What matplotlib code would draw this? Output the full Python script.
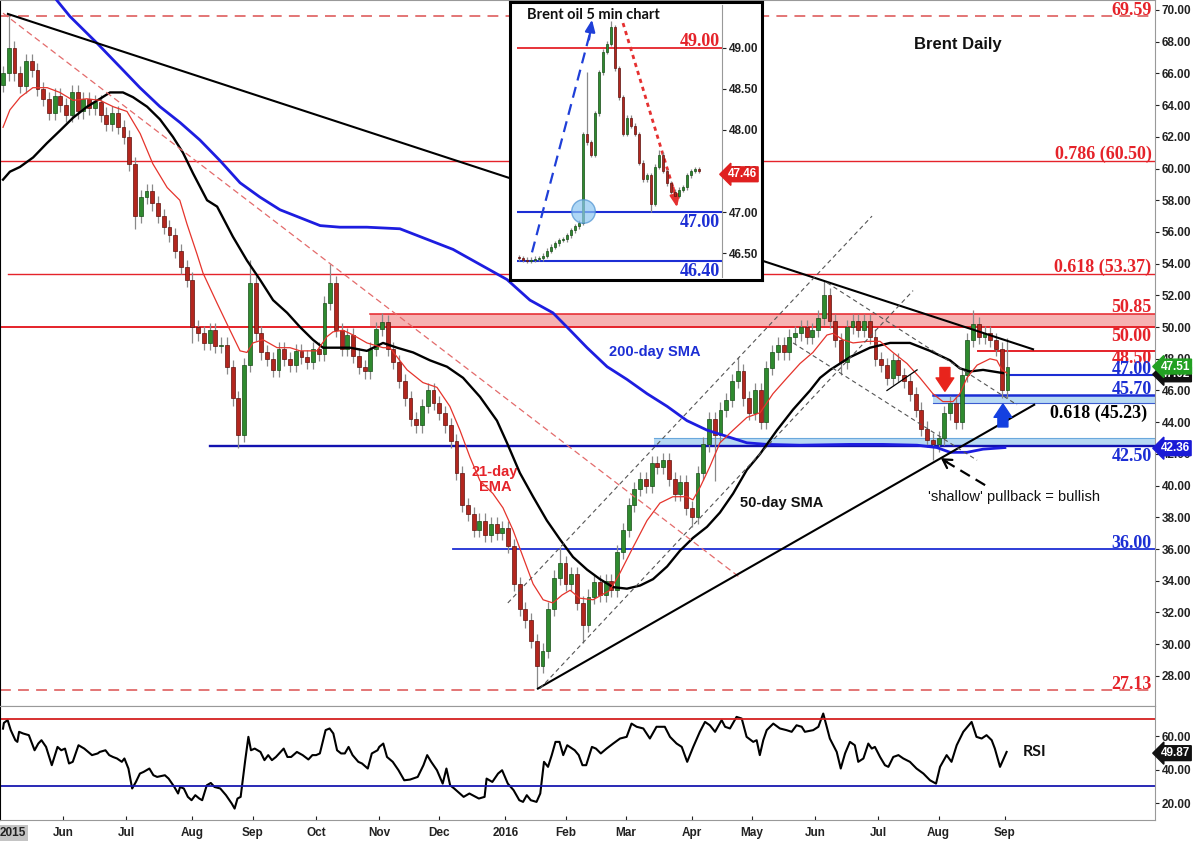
import matplotlib.pyplot as plt
import numpy as np
import pandas as pd

# Brent daily, one candle for every second session starting 1 May 2015
closes = [66.0, 67.6, 66.0, 65.2, 66.8, 66.2, 65.0, 64.4, 63.5, 64.6,
          64.0, 63.4, 64.8, 63.6, 64.4, 63.8, 64.2, 63.4, 62.8, 63.5,
          62.6, 62.0, 60.3, 57.0, 58.2, 58.6, 57.8, 57.0, 56.3, 55.8,
          54.8, 53.8, 53.0, 50.0, 49.6, 49.0, 49.8, 48.8, 48.9, 47.5,
          45.5, 43.2, 47.6, 52.8, 49.6, 48.4, 48.0, 47.3, 48.6, 48.0,
          47.6, 48.5, 48.1, 47.8, 48.6, 48.3, 51.5, 52.8, 49.8, 48.6,
          49.5, 48.2, 47.5, 47.2, 48.6, 49.9, 50.3, 48.6, 47.8, 46.6,
          45.5, 44.2, 43.8, 45.0, 46.0, 45.2, 44.6, 43.8, 42.8, 40.8,
          38.8, 38.2, 37.2, 37.8, 36.9, 37.6, 37.0, 37.3, 36.2, 33.8,
          32.2, 31.5, 30.2, 28.6, 29.6, 32.2, 34.2, 35.1, 33.8, 34.4,
          32.6, 31.2, 33.0, 33.9, 33.1, 34.0, 33.4, 35.8, 37.2, 38.8,
          39.8, 40.4, 40.0, 41.4, 41.2, 41.6, 40.4, 39.5, 40.2, 38.6,
          38.0, 40.8, 42.6, 44.2, 43.2, 44.8, 45.4, 46.6, 47.2, 45.5,
          44.6, 46.0, 44.0, 47.4, 48.4, 48.9, 48.4, 49.4, 49.6, 50.0,
          49.4, 49.8, 50.6, 52.0, 50.4, 49.2, 47.8, 50.0, 50.4, 49.8,
          50.4, 49.4, 48.0, 47.6, 46.8, 47.9, 47.0, 46.6, 45.8, 44.8,
          43.6, 42.9, 42.6, 43.0, 44.6, 45.2, 44.0, 47.0, 49.2, 50.2,
          49.4, 49.6, 49.2, 48.6, 46.0, 47.5]
first_open = 65.3
bar_highs = {1: 69.75, 43: 54.2, 57: 54.0, 66: 50.9, 74: 46.5, 97: 36.1,
             128: 48.1, 143: 52.9, 169: 51.1, 175: 49.3}
bar_lows = {23: 56.2, 33: 49.0, 41: 42.4, 93: 27.2, 101: 30.1, 120: 37.4,
            124: 40.3, 146: 47.0, 162: 41.6, 174: 45.5}

ema21_day = [0, 2.4, 6.0, 10.4, 15.4, 19.8, 24.4, 29.2, 33.8, 38.4,
             43.2, 47.8, 52.2, 57.2, 61.6, 64.1, 67.6, 69.7, 74.6, 79.1,
             82.6, 85.0, 87.1, 90.6, 95.5, 100.0, 103.5, 109.4, 112.9, 115.0,
             118.5, 122.0, 126.8, 132.4, 134.8, 140.8, 146.3, 151.2, 155.7, 159.2,
             162.7, 166.2, 170.7, 174.2, 177.7, 181.2, 184.7, 188.2, 191.6, 194.8,
             197.6, 201.0, 205.6, 211.5, 215.0, 219.5, 224.4, 228.9, 233.4, 238.3,
             240.4, 242.9, 246.3, 249.8, 254.4, 259.2, 263.8, 268.3, 273.2, 277.7,
             282.2, 287.1, 289.2, 292.7, 296.2, 301.0, 305.6, 310.1, 315.0, 319.5,
             324.0, 327.5, 331.0, 333.4, 335.9, 339.4, 343.9, 346.3, 348.1, 349.8]
ema21_val = [62.6, 63.7, 64.5, 65.1, 65.1, 64.8, 64.3, 64.4, 64.3, 63.9,
             63.6, 62.2, 60.3, 58.8, 58.0, 56.5, 54.6, 53.4, 51.5, 49.8,
             48.5, 48.4, 49.0, 49.2, 48.7, 48.7, 48.5, 48.5, 49.4, 49.7,
             49.8, 49.5, 49.0, 48.7, 48.7, 47.3, 46.5, 46.2, 45.0, 43.5,
             41.8, 40.3, 39.5, 38.6, 37.2, 35.5, 33.8, 32.8, 32.6, 33.1,
             33.4, 32.9, 32.8, 33.4, 34.5, 36.1, 37.8, 38.9, 39.3, 39.3,
             39.1, 39.9, 41.2, 42.7, 43.5, 44.3, 44.6, 45.8, 46.8, 47.7,
             48.4, 49.5, 49.6, 49.2, 49.0, 49.1, 49.1, 48.4, 47.7, 46.8,
             45.8, 45.3, 45.3, 45.8, 46.8, 47.6, 48.0, 47.9, 47.3, 47.1]

sma50_day = [0, 2.4, 5.9, 10.5, 15.3, 19.9, 24.4, 29.3, 33.8, 37.3,
             41.8, 45.3, 50.2, 54.7, 59.2, 62.7, 66.2, 71.1, 74.6, 80.1,
             85.0, 89.5, 94.1, 99.0, 103.5, 108.0, 111.5, 115.0, 120.9, 126.8,
             132.4, 137.3, 142.9, 148.8, 154.7, 160.3, 166.2, 172.1, 175.6, 180.1,
             184.7, 189.5, 194.1, 198.6, 203.5, 208.0, 212.5, 217.4, 222.0, 226.5,
             231.4, 235.9, 240.4, 245.3, 249.8, 254.4, 259.2, 263.8, 269.7, 275.3,
             281.2, 284.7, 288.2, 295.1, 302.1, 309.1, 316.0, 323.0, 330.0, 333.4,
             336.9, 341.5, 348.4]
sma50_val = [59.3, 59.8, 60.1, 60.7, 61.6, 62.4, 63.2, 63.9, 64.4, 64.8,
             64.8, 64.5, 63.9, 63.1, 62.0, 61.0, 59.7, 58.0, 57.6, 55.7,
             54.2, 53.0, 51.7, 50.9, 50.0, 49.2, 48.7, 48.7, 48.7, 48.5,
             49.0, 48.7, 48.4, 47.9, 47.5, 46.8, 45.6, 44.1, 42.7, 40.8,
             39.3, 37.8, 36.6, 35.5, 34.7, 34.1, 33.6, 33.5, 33.7, 34.1,
             34.9, 35.9, 36.7, 37.4, 38.3, 39.5, 41.0, 42.0, 43.5, 44.8,
             46.0, 46.8, 47.3, 48.1, 48.7, 49.0, 49.0, 48.5, 47.9, 47.4,
             47.2, 47.3, 47.1]

sma200_day = [18.8, 23.3, 32.8, 40.8, 47.7, 54.7, 61.7, 68.6, 75.6, 82.6,
              89.5, 96.5, 103.5, 110.5, 117.4, 126.8, 138.3, 156.8, 175.6, 183.6,
              191.6, 197.6, 203.5, 210.5, 217.4, 224.4, 231.4, 238.3, 245.3, 252.3,
              259.2, 266.2, 277.7, 295.1, 306.6, 318.5, 325.4, 330.0, 335.9, 341.5,
              349.1]
sma200_val = [70.6, 69.6, 67.9, 66.4, 65.1, 63.9, 62.9, 61.8, 60.5, 59.1,
              58.2, 57.4, 56.9, 56.4, 56.3, 56.3, 56.2, 54.9, 53.0, 51.7,
              50.9, 49.8, 48.7, 47.5, 46.7, 45.8, 45.0, 44.1, 43.5, 43.1,
              42.7, 42.6, 42.55, 42.6, 42.6, 42.55, 42.4, 42.1, 42.1, 42.3,
              42.4]

rsi_day = [0, 0.3, 1.6, 2.7, 4.3, 5.0, 5.6, 7.0, 9.0, 11.0,
           12.3, 13.4, 15.0, 17.0, 19.0, 20.3, 21.6, 23.0, 24.3, 26.3,
           28.3, 31.0, 33.0, 33.7, 35.7, 37.0, 38.3, 39.7, 41.4, 42.3,
           43.7, 45.0, 46.3, 47.7, 49.0, 51.0, 52.4, 53.7, 56.4, 57.7,
           59.7, 61.0, 61.7, 63.0, 64.4, 65.7, 67.0, 68.4, 69.4, 71.0,
           72.4, 73.7, 75.7, 77.7, 79.7, 80.7, 81.7, 82.8, 84.4, 85.5,
           86.4, 87.7, 89.7, 91.1, 92.4, 93.7, 95.1, 97.8, 99.1, 100.4,
           102.4, 104.4, 106.4, 107.8, 109.1, 110.4, 112.4, 113.8, 115.1, 116.4,
           117.8, 119.1, 120.4, 121.8, 123.8, 125.1, 127.1, 128.5, 130.5, 131.1,
           132.5, 133.8, 135.8, 137.8, 139.8, 141.8, 144.5, 146.5, 147.8, 149.2,
           151.2, 153.2, 154.5, 155.8, 157.2, 160.5, 162.5, 165.8, 167.8, 168.5,
           170.5, 172.5, 173.9, 175.9, 177.9, 179.9, 181.2, 182.5, 183.9, 185.9,
           187.2, 188.5, 189.9, 191.2, 192.5, 193.9, 195.2, 196.6, 199.2, 200.6,
           201.9, 203.2, 205.2, 206.6, 208.3, 210.3, 212.6, 215.0, 217.3, 219.0,
           220.8, 223.1, 225.4, 227.7, 230.6, 232.4, 234.7, 236.5, 238.4, 240.5,
           242.8, 244.6, 246.3, 248.1, 250.4, 251.6, 253.3, 255.6, 257.4, 259.1,
           261.4, 262.6, 263.7, 264.9, 266.1, 268.4, 270.7, 273.0, 274.8, 276.5,
           278.3, 279.4, 282.3, 284.1, 285.8, 288.1, 290.5, 291.9, 293.4, 295.1,
           296.8, 298.0, 299.8, 301.5, 302.7, 303.8, 305.6, 307.3, 308.5, 310.2,
           312.0, 313.7, 316.0, 318.3, 320.7, 323.0, 325.1, 326.5, 328.8, 330.5,
           332.3, 334.6, 337.5, 339.2, 341.0, 342.7, 344.5, 345.6, 347.4, 349.7]
rsi_val = [64.5, 67.9, 69.6, 63.6, 57.6, 56.6, 62.6, 61.6, 60.6, 51.6,
           55.6, 57.6, 53.6, 42.7, 53.6, 51.6, 52.6, 43.7, 44.7, 54.6,
           52.6, 48.7, 49.7, 50.6, 51.6, 48.7, 47.6, 46.7, 44.7, 46.7,
           40.7, 28.8, 32.7, 37.7, 38.7, 40.7, 36.7, 35.7, 36.7, 34.7,
           29.7, 25.8, 29.7, 28.8, 23.8, 21.8, 24.8, 22.8, 21.8, 30.7,
           32.1, 29.7, 28.8, 24.8, 19.8, 16.8, 22.8, 23.8, 45.7, 59.6,
           51.6, 52.6, 50.6, 45.7, 48.7, 45.7, 47.6, 52.6, 47.6, 47.6,
           50.6, 48.7, 46.1, 48.7, 48.7, 49.7, 63.6, 64.6, 61.6, 51.6,
           49.7, 49.7, 53.6, 48.7, 44.7, 43.7, 40.7, 49.7, 51.6, 53.6,
           55.6, 47.6, 44.7, 39.7, 33.7, 34.1, 35.7, 42.7, 48.7, 44.7,
           39.7, 31.7, 40.7, 30.7, 28.8, 23.8, 25.8, 22.8, 23.8, 34.7,
           32.7, 37.7, 39.7, 31.7, 27.8, 21.8, 20.8, 24.8, 21.8, 20.8,
           25.8, 44.7, 41.7, 48.7, 56.6, 56.6, 48.7, 54.6, 51.6, 48.7,
           42.7, 42.7, 53.6, 52.6, 49.7, 52.6, 55.6, 58.6, 59.6, 67.5,
           65.6, 64.6, 58.6, 65.6, 65.6, 59.6, 55.6, 53.6, 44.7, 53.6,
           62.6, 68.5, 66.5, 62.6, 69.6, 65.6, 64.6, 71.5, 70.5, 59.6,
           56.6, 57.6, 48.7, 57.6, 63.6, 67.5, 64.6, 63.6, 62.6, 66.5,
           65.6, 62.6, 63.6, 65.6, 73.5, 58.6, 50.6, 40.7, 49.7, 56.6,
           54.6, 44.7, 46.7, 55.6, 52.6, 53.6, 47.6, 42.7, 41.7, 47.6,
           48.7, 46.7, 44.7, 40.7, 37.7, 33.7, 31.7, 41.7, 48.7, 44.7,
           54.6, 62.6, 68.5, 59.6, 58.6, 60.6, 57.6, 52.6, 41.7, 50.6]

# 5 minute inset
m5_closes = [46.44, 46.42, 46.41, 46.42, 46.43, 46.44, 46.47, 46.53, 46.58, 46.62,
             46.66, 46.67, 46.72, 46.78, 46.83, 46.87, 47.95, 47.85, 47.70, 48.20,
             48.70, 48.95, 49.05, 49.25, 48.75, 48.40, 47.95, 48.15, 48.05, 47.95,
             47.60, 47.40, 47.45, 47.10, 47.55, 47.70, 47.50, 47.35, 47.25, 47.20,
             47.27, 47.30, 47.45, 47.50, 47.52, 47.50]
m5_first_open = 46.45
m5_highs = {17: 48.70, 23: 49.33, 35: 47.75}
m5_lows = {33: 47.00}

price_ticks = np.arange(28, 71, 2)
rsi_ticks = [20, 40, 60]
m5_ticks = [46.5, 47.0, 47.5, 48.0, 48.5, 49.0]

dates = pd.bdate_range('2015-05-01', periods=352)

RED = '#e5232a'
BLUE = '#1c2ed4'
SERIF = 'Liberation Serif'
SANS = 'Liberation Sans'


def candles(axis, xs, opens, cl, highs, lows, width):
    opens, cl = np.array(opens), np.array(cl)
    up = cl >= opens
    axis.vlines(xs, lows, highs, color='#8a8a8a', lw=0.9, zorder=3)
    body = np.maximum(np.abs(cl - opens), 0.06 * (axis.get_ylim()[1] - axis.get_ylim()[0]) / 40)
    axis.bar(xs, body, bottom=np.minimum(opens, cl), width=width,
             color=np.where(up, '#2f8a2f', '#b3261e'),
             edgecolor=np.where(up, '#174d17', '#5e120e'), linewidth=0.5, zorder=4)


def tag(axis, y, s, color):
    axis.annotate(s, xy=(1, y), xycoords=('axes fraction', 'data'), xytext=(4, 0),
                  textcoords='offset points', ha='left', va='center', fontsize=8.5,
                  fontweight='bold', color='white', family=SANS, annotation_clip=False,
                  bbox=dict(boxstyle='larrow,pad=0.12', fc=color, ec=color), zorder=10)


def level_text(axis, y, s, color, va, x=0.997):
    axis.text(x, y, s, transform=axis.get_yaxis_transform(), ha='right', va=va,
              color=color, fontsize=13, fontweight='bold', family=SERIF, zorder=6)


fig = plt.figure(figsize=(12, 8.42), dpi=100)
ax = fig.add_axes([0, 136 / 842, 1155 / 1200, 706 / 842])
rsi_ax = fig.add_axes([0, 22 / 842, 1155 / 1200, 114 / 842], sharex=ax)

ax.set_xlim(-1.05, 401.4)
ax.set_ylim(26.1, 70.63)

# candles
xs = np.arange(len(closes)) * 2
opens = [first_open] + closes[:-1]
highs = [bar_highs.get(k, max(o, c) + 0.45) for k, (o, c) in enumerate(zip(opens, closes))]
lows = [bar_lows.get(k, min(o, c) - 0.45) for k, (o, c) in enumerate(zip(opens, closes))]
candles(ax, xs, opens, closes, highs, lows, 1.35)

# moving averages
ax.plot(sma200_day, sma200_val, color='#1d1de0', lw=2.0, zorder=5)
ax.plot(sma50_day, sma50_val, color='black', lw=1.7, zorder=5)
ax.plot(ema21_day, ema21_val, color='#e5342c', lw=0.9, zorder=5)

# horizontal levels and zones
ax.axhline(69.59, color='#e06a6a', lw=1.3, ls=(0, (6, 4)), zorder=2)
ax.axhline(60.50, color=RED, lw=1.0, zorder=2)
ax.plot([1.7, 401.4], [53.37, 53.37], color=RED, lw=1.0, zorder=2)
ax.fill_between([127.9, 401.4], 50.0, 50.85, color='#f6b2b2', lw=0, zorder=1)
ax.plot([127.9, 401.4], [50.85, 50.85], color=RED, lw=1.1, zorder=2)
ax.axhline(50.0, color=RED, lw=1.4, zorder=2)
ax.plot([339.7, 401.4], [48.5, 48.5], color=RED, lw=1.4, zorder=2)
ax.plot([349.8, 401.4], [47.0, 47.0], color=BLUE, lw=1.5, zorder=2)
ax.fill_between([324.0, 401.4], 45.23, 45.70, color='#b7d9f3', lw=0, zorder=1)
ax.plot([324.0, 401.4], [45.70, 45.70], color=BLUE, lw=1.8, zorder=2)
ax.plot([324.0, 401.4], [45.23, 45.23], color='#3b5bd0', lw=0.8, zorder=2)
ax.fill_between([227.0, 401.4], 42.5, 43.0, color='#b7d9f3', lw=0, zorder=1)
ax.plot([227.0, 401.4], [43.0, 43.0], color='#6aa8dc', lw=0.8, zorder=2)
ax.plot([72.1, 401.4], [42.5, 42.5], color='#1212b0', lw=1.7, zorder=2)
ax.plot([156.8, 401.4], [36.0, 36.0], color=BLUE, lw=1.3, zorder=2)
ax.axhline(27.13, color='#e06a6a', lw=1.3, ls=(0, (6, 4)), zorder=2)

# trend lines and channels
ax.plot([1.7, 358.9], [69.75, 48.6], color='black', lw=1.5, zorder=5)
ax.plot([0, 256.8], [69.8, 34.2], color='#e36b6b', lw=0.9, ls=(0, (5, 3)), zorder=5)
ax.plot([186.4, 359.3], [27.2, 45.1], color='black', lw=1.5, zorder=5)
ax.plot([175.9, 302.8], [32.6, 57.0], color='#555555', lw=0.8, ls=(0, (4, 3)), zorder=5)
ax.plot([187.1, 317.1], [27.2, 52.3], color='#555555', lw=0.8, ls=(0, (4, 3)), zorder=5)
ax.plot([287.1, 353.3], [52.8, 45.1], color='#555555', lw=0.8, ls=(0, (4, 3)), zorder=5)
ax.plot([275.3, 339.4], [49.0, 41.6], color='#555555', lw=0.8, ls=(0, (4, 3)), zorder=5)
ax.plot([308.0, 318.5], [46.0, 47.3], color='black', lw=0.9, zorder=5)

# level labels
level_text(ax, 69.59 + 0.08, '69.59', RED, 'baseline')
level_text(ax, 60.50 + 0.08, '0.786 (60.50)', RED, 'baseline')
level_text(ax, 53.37 + 0.08, '0.618 (53.37)', RED, 'baseline')
level_text(ax, 50.85 + 0.08, '50.85', RED, 'baseline')
level_text(ax, 50.0 - 0.08, '50.00', RED, 'top')
level_text(ax, 48.5 + 0.06, '48.50', RED, 'top')
level_text(ax, 47.0 + 0.03, '47.00', BLUE, 'baseline')
level_text(ax, 45.70 + 0.06, '45.70', BLUE, 'baseline')
level_text(ax, 45.23 - 0.1, '0.618 (45.23)', 'black', 'top', x=0.993)
level_text(ax, 42.5 - 0.12, '42.50', BLUE, 'top')
level_text(ax, 36.0 + 0.06, '36.00', BLUE, 'baseline')
level_text(ax, 27.13 + 0.06, '27.13', RED, 'baseline')

# commentary
ax.text(332.8, 67.8, 'Brent Daily', ha='center', va='center', fontsize=12,
        fontweight='bold', family=SANS, color='#111111')
ax.text(227.2, 48.4, '200-day SMA', ha='center', va='center', fontsize=10.5,
        fontweight='bold', family=SANS, color=BLUE)
ax.text(171.4, 40.4, '21-day\nEMA', ha='center', va='center', fontsize=10.5,
        fontweight='bold', family=SANS, color=RED, linespacing=1.05)
ax.text(271.4, 38.9, '50-day SMA', ha='center', va='center', fontsize=10.5,
        fontweight='bold', family=SANS, color='#111111')
ax.text(352.3, 39.3, "'shallow' pullback = bullish", ha='center', va='center',
        fontsize=10.5, family=SANS, color='#111111')
ax.plot([342.2, 328.2], [40.03, 41.55], color='black', lw=1.6, ls=(0, (5, 3)), zorder=6)
ax.annotate('', xy=(326.8, 41.73), xytext=(329.0, 41.47),
            arrowprops=dict(arrowstyle='->,head_length=0.6,head_width=0.35', lw=1.6,
                            color='black', shrinkA=0, shrinkB=0), zorder=6)
ax.annotate('', xy=(328.2, 45.95), xytext=(328.2, 47.45),
            arrowprops=dict(arrowstyle='simple,head_length=0.6,head_width=0.8,tail_width=0.45',
                            fc='#e8241c', ec='#e8241c', mutation_scale=16, shrinkA=0, shrinkB=0),
            zorder=7)
ax.annotate('', xy=(348.4, 45.15), xytext=(348.4, 43.7),
            arrowprops=dict(arrowstyle='simple,head_length=0.6,head_width=0.8,tail_width=0.45',
                            fc='#1440e0', ec='#1440e0', mutation_scale=16, shrinkA=0, shrinkB=0),
            zorder=7)

# price axis
ax.yaxis.tick_right()
ax.set_yticks(price_ticks, [f'{v:.2f}' for v in price_ticks], fontweight='bold', family=SANS)
ax.tick_params(axis='y', length=3, width=0.8, pad=2, labelsize=8.5, colors='#222222')
ax.tick_params(axis='x', bottom=False, labelbottom=False)
for side in ['top', 'right', 'bottom']:
    ax.spines[side].set_color('#999999')
ax.spines['left'].set_color('black')
tag(ax, 47.02, '47.02', '#111111')
tag(ax, 47.51, '47.51', '#22a022')
tag(ax, 42.36, '42.36', '#1a1ad6')

# RSI panel
rsi_ax.plot(rsi_day, rsi_val, color='black', lw=1.5)
rsi_ax.axhline(70, color='#d42020', lw=1.3)
rsi_ax.axhline(30, color='#1818b0', lw=1.3)
rsi_ax.set_ylim(10, 78)
rsi_ax.yaxis.tick_right()
rsi_ax.set_yticks(rsi_ticks, [f'{v:.2f}' for v in rsi_ticks], fontweight='bold', family=SANS)
rsi_ax.tick_params(axis='y', length=3, width=0.8, pad=2, labelsize=8.5, colors='#222222')
rsi_ax.text(359.6, 50.4, 'RSI', ha='center', va='center', fontsize=11.5,
            fontweight='bold', family='Lato', color='#111111')
tag(rsi_ax, 49.87, '49.87', '#111111')
for side in ['top', 'right', 'bottom']:
    rsi_ax.spines[side].set_color('#999999')

month_pos = [i for i in range(len(dates)) if i > 0 and dates[i].month != dates[i - 1].month]
month_lab = [str(dates[i].year) if dates[i].month == 1 else dates[i].strftime('%b') for i in month_pos]
rsi_ax.set_xticks(month_pos, month_lab, fontweight='bold', family=SANS)
rsi_ax.tick_params(axis='x', direction='in', length=3, pad=5, labelsize=8.5, colors='#222222')
fig.text(0.0, 1 - 833 / 842, '2015', ha='left', va='center', fontsize=8.5, fontweight='bold',
         family=SANS, color='#222222', bbox=dict(fc='#c4c4c4', ec='none', pad=1.2))

# inset: 5 minute chart
frame = fig.add_axes([510 / 1200, 1 - 280 / 842, 252 / 1200, 278 / 842], zorder=5)
frame.set_xticks([])
frame.set_yticks([])
for s in frame.spines.values():
    s.set_linewidth(2.2)
    s.set_color('black')
frame.text(0.067, 0.953, 'Brent oil 5 min chart', transform=frame.transAxes, ha='left',
           va='center', fontsize=10.5, fontweight='bold', family='Lato', color='#111111')

ins = fig.add_axes([517 / 1200, 1 - 277 / 842, 205 / 1200, 272 / 842], zorder=6)
ins.patch.set_alpha(0)
ins.set_xlim(-0.5, 50.75)
ins.set_ylim(46.21, 49.52)
for side in ['left', 'top', 'bottom']:
    ins.spines[side].set_visible(False)
ins.spines['right'].set_color('#999999')
ins.set_xticks([])
ins.yaxis.tick_right()
ins.set_yticks(m5_ticks, [f'{v:.2f}' for v in m5_ticks], fontweight='bold', family=SANS)
ins.tick_params(axis='y', length=3, width=0.8, pad=2, labelsize=8.5, colors='#222222')

ins.axhline(49.0, color=RED, lw=1.3)
ins.axhline(47.0, color=BLUE, lw=1.5)
ins.axhline(46.40, color=BLUE, lw=1.5)
level_text(ins, 49.0 + 0.02, '49.00', RED, 'baseline', x=0.99)
level_text(ins, 47.0 - 0.02, '47.00', BLUE, 'top', x=0.99)
level_text(ins, 46.40 - 0.02, '46.40', BLUE, 'top', x=0.99)

jx = np.arange(len(m5_closes))
m5_opens = [m5_first_open] + m5_closes[:-1]
m5_hi = [m5_highs.get(j, max(o, c) + 0.03) for j, (o, c) in enumerate(zip(m5_opens, m5_closes))]
m5_lo = [m5_lows.get(j, min(o, c) - 0.03) for j, (o, c) in enumerate(zip(m5_opens, m5_closes))]
candles(ins, jx, m5_opens, m5_closes, m5_hi, m5_lo, 0.65)

ins.plot(16, 47.01, 'o', ms=17, mfc='#8cc6f2', mec='#4a90d0', alpha=0.7, zorder=5)
ins.plot([3.25, 17.6], [46.51, 49.15], color='#1f3fd8', lw=1.6, ls=(0, (5, 3)))
ins.annotate('', xy=(18.25, 49.34), xytext=(17.5, 49.1),
             arrowprops=dict(arrowstyle='-|>,head_length=0.7,head_width=0.3', lw=1.6,
                             color='#1f3fd8', shrinkA=0, shrinkB=0))
ins.plot([26, 38.8], [49.30, 47.25], color='#e53030', lw=2.0, ls=(0, (1.5, 1.5)))
ins.annotate('', xy=(39.5, 47.06), xytext=(38.6, 47.3),
             arrowprops=dict(arrowstyle='-|>,head_length=0.7,head_width=0.3', lw=1.6,
                             color='#e53030', shrinkA=0, shrinkB=0))
tag(ins, 47.46, '47.46', '#e02020')

fig.savefig('out.png', dpi=100)
